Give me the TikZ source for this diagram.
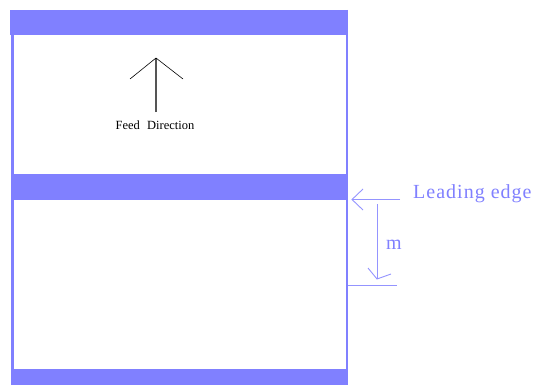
\documentclass[tikz,border=0pt]{standalone}
\usepackage{fontspec}
\setmainfont{Liberation Serif}
\definecolor{barblue}{HTML}{8080FF}
\definecolor{lineblue}{HTML}{9494FF}
\definecolor{arrgray}{HTML}{555555}
\begin{document}
\begin{tikzpicture}[x=1pt,y=-1pt,
  bar/.style={fill=barblue,draw=none},
  frame/.style={draw=barblue,line width=2.5pt},
  dim/.style={draw=lineblue,line width=0.9pt},
  lbl/.style={text=barblue,font=\fontsize{20}{22}\selectfont\addfontfeatures{LetterSpace=5},inner sep=0pt}]
\useasboundingbox (0,0) rectangle (534,385);
% bars
\path[bar] (10,10) rectangle (348,35);
\path[bar] (11,174) rectangle (348,200);
\path[bar] (11,369) rectangle (348,385);
% side lines
\draw[frame] (12.5,35) -- (12.5,385);
\draw[frame] (347,10) -- (347,385);
% feed direction arrow
\coordinate (ftip) at (156,58);
\coordinate (fbot) at (156,112);
\draw[arrgray,line width=1.2pt] (fbot) -- (ftip);
\draw[black,line width=0.6pt] (130,79) -- (ftip) -- (183,79);
\node[font=\fontsize{12.5}{14}\selectfont,inner sep=0pt] (feed) at (155,125) {Feed\,\, Direction};
% leading edge
\coordinate (ltip) at (352,199.5);
\coordinate (lend) at (400,199.5);
\draw[dim] (lend) -- (ltip);
\draw[dim] (363,189) -- (ltip) -- (363,210);
\node[lbl,anchor=west] (lead) at (413,194) {Leading edge};
% m dimension
\coordinate (mtop) at (377,204);
\coordinate (mtip) at (377,279);
\draw[dim] (mtop) -- (mtip);
\draw[dim] (368,268) -- (mtip) -- (391,274);
\coordinate (hl) at (348,285);
\coordinate (hr) at (397,285);
\draw[dim] (hl) -- (hr);
\node[lbl,anchor=west] (m) at (386,245) {m};
\end{tikzpicture}
\end{document}
